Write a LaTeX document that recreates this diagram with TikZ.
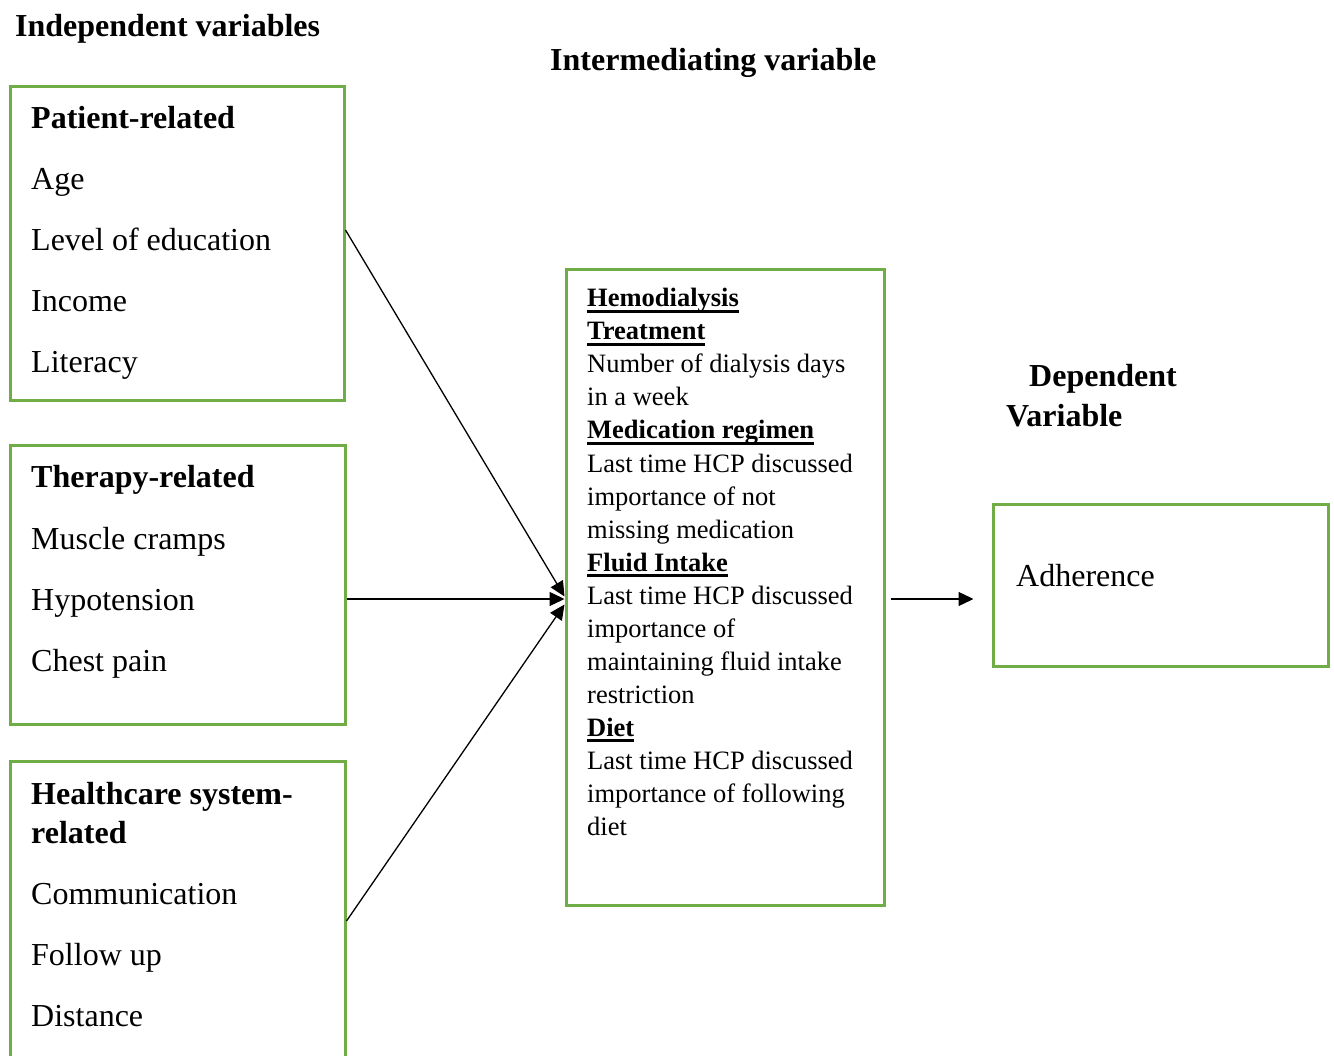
\documentclass[tikz,border=0pt]{standalone}
\usepackage{fontspec}
\setmainfont{Liberation Serif}
\usetikzlibrary{arrows.meta}
\definecolor{boxgreen}{HTML}{70AD47}
\newcommand\myul[1]{\setbox0\hbox{#1}\rlap{\rule[-6pt]{\wd0}{2.6pt}}\box0}
\begin{document}
\begin{tikzpicture}[x=1pt,y=-1pt,
  gbox/.style={draw=boxgreen,line width=3pt,inner sep=0pt,fill=none},
  big/.style={anchor=base west,inner sep=0pt,yshift=-2pt,font=\fontsize{32}{38}\selectfont},
  bigb/.style={big,font=\fontsize{32}{38}\selectfont\bfseries},
  small/.style={anchor=base west,inner sep=0pt,yshift=-2pt,font=\fontsize{26.5}{33}\selectfont},
  smallh/.style={small,font=\fontsize{26.5}{33}\selectfont\bfseries},
  arr/.style={line width=1.3pt,-{Triangle[length=15pt,width=14pt]}}]
\useasboundingbox (0,0) rectangle (1334,1056);
\fill[white] (0,0) rectangle (1334,1056);

% headings
\node[bigb] (hind) at (15,35) {Independent variables};
\node[bigb] (hint) at (550,69) {Intermediating variable};
\node[bigb] (hdep1) at (1029,385) {Dependent};
\node[bigb] (hdep2) at (1006,425) {Variable};

% boxes
\node[gbox,minimum width=334pt,minimum height=314pt] (pat) at (177,244) {};
\node[gbox,minimum width=335pt,minimum height=278pt] (ther) at (177.5,585) {};
\node[gbox,minimum width=335pt,minimum height=320pt] (hc) at (177.5,921) {};
\node[gbox,minimum width=318pt,minimum height=635pt] (mid) at (725,587.5) {};
\node[gbox,minimum width=335pt,minimum height=162pt] (adh) at (1160.5,585) {};

% patient-related
\node[bigb] (p0) at (31,127) {Patient-related};
\node[big] (p1) at (31,188) {Age};
\node[big] (p2) at (31,249) {Level of education};
\node[big] (p3) at (31,310) {Income};
\node[big] (p4) at (31,371) {Literacy};

% therapy-related
\node[bigb] (t0) at (31,486) {Therapy-related};
\node[big] (t1) at (31,547) {Muscle cramps};
\node[big] (t2) at (31,608) {Hypotension};
\node[big] (t3) at (31,669) {Chest pain};

% healthcare
\node[bigb] (c0) at (31,802) {Healthcare system-};
\node[bigb] (c1) at (31,841) {related};
\node[big] (c2) at (31,902) {Communication};
\node[big] (c3) at (31,963) {Follow up};
\node[big] (c4) at (31,1024) {Distance};

% intermediating
\node[smallh] (m0) at (587,305) {\myul{Hemodialysis}};
\node[smallh] (m1) at (587,338) {\myul{Treatment}};
\node[small] (m2) at (587,371) {Number of dialysis days};
\node[small] (m3) at (587,404) {in a week};
\node[smallh] (m4) at (587,437) {\myul{Medication regimen}};
\node[small] (m5) at (587,470) {Last time HCP discussed};
\node[small] (m6) at (587,503) {importance of not};
\node[small] (m7) at (587,536) {missing medication};
\node[smallh] (m8) at (587,569) {\myul{Fluid Intake}};
\node[small] (m9) at (587,602) {Last time HCP discussed};
\node[small] (m10) at (587,635) {importance of};
\node[small] (m11) at (587,668) {maintaining fluid intake};
\node[small] (m12) at (587,701) {restriction};
\node[smallh] (m13) at (587,734) {\myul{Diet}};
\node[small] (m14) at (587,767) {Last time HCP discussed};
\node[small] (m15) at (587,800) {importance of following};
\node[small] (m16) at (587,833) {diet};

% dependent
\node[big] (a0) at (1016,584) {Adherence};

% arrows
\draw[arr] ([yshift=14pt]pat.east) -- ([yshift=-9pt]mid.west);
\draw[arr] ([yshift=-14pt]ther.east) -- ([yshift=-11.5pt]mid.west);
\draw[arr] ([yshift=0pt]hc.east) -- ([yshift=-17pt]mid.west);
\draw[arr] ([xshift=5pt,yshift=-11.5pt]mid.east) -- ([xshift=-18pt,yshift=-14pt]adh.west);
\end{tikzpicture}
\end{document}
